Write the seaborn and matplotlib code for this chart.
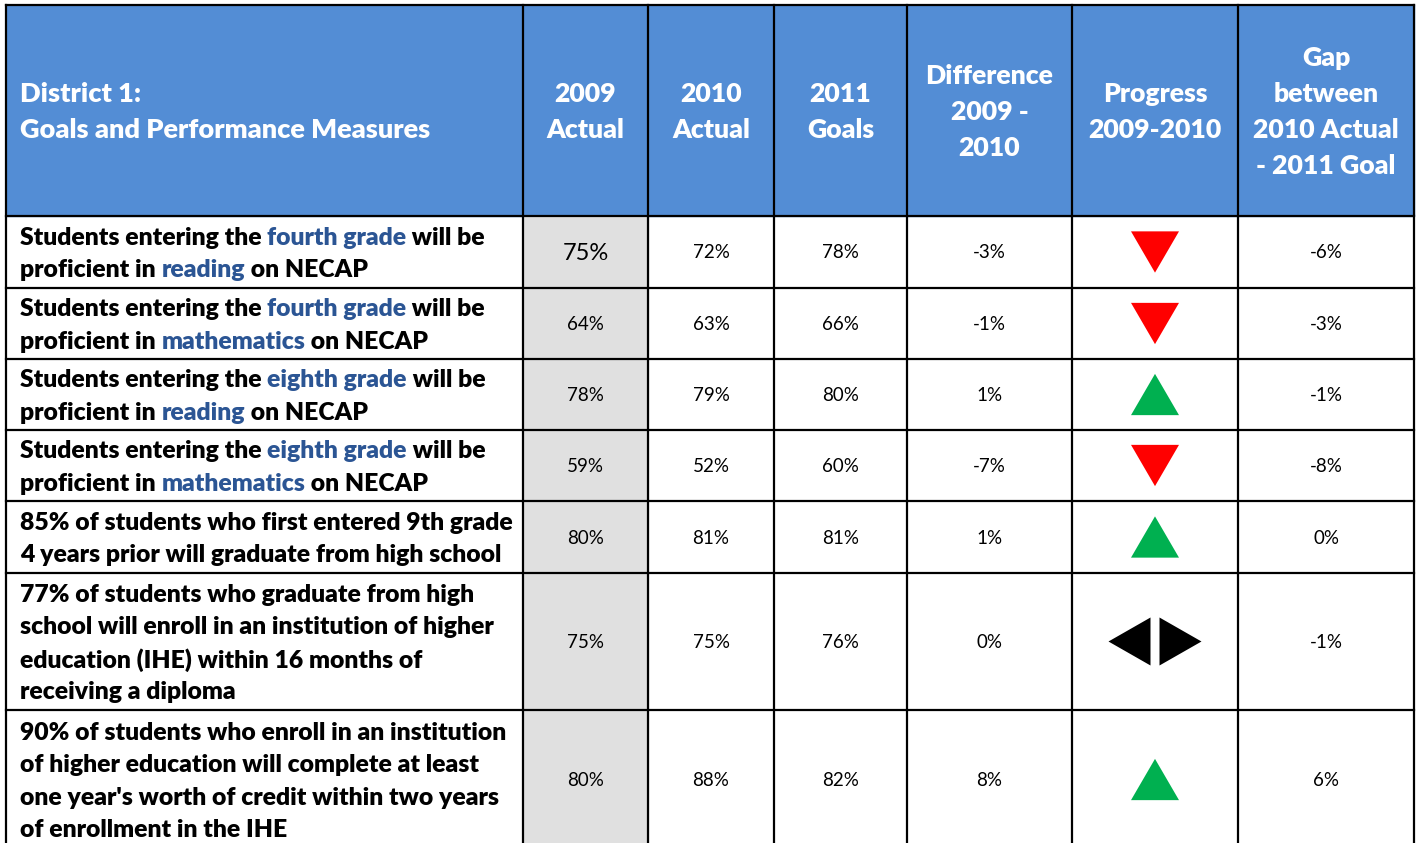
import pandas as pd
import matplotlib.pyplot as plt
import seaborn as sns

# Table content
header_title = ["District 1:", "Goals and Performance Measures"]
col_headers = [
    ["2009", "Actual"],
    ["2010", "Actual"],
    ["2011", "Goals"],
    ["Difference", "2009 -", "2010"],
    ["Progress", "2009-2010"],
    ["Gap", "between", "2010 Actual", "- 2011 Goal"],
]

# [..] marks the words printed in blue
measures = [
    ["Students entering the [fourth grade] will be", "proficient in [reading] on NECAP"],
    ["Students entering the [fourth grade] will be", "proficient in [mathematics] on NECAP"],
    ["Students entering the [eighth grade] will be", "proficient in [reading] on NECAP"],
    ["Students entering the [eighth grade] will be", "proficient in [mathematics] on NECAP"],
    ["85% of students who first entered 9th grade", "4 years prior will graduate from high school"],
    ["77% of students who graduate from high", "school will enroll in an institution of higher",
     "education (IHE) within 16 months of", "receiving a diploma"],
    ["90% of students who enroll in an institution", "of higher education will complete at least",
     "one year's worth of credit within two years", "of enrollment in the IHE"],
]
actual_2009 = ["75%", "64%", "78%", "59%", "80%", "75%", "80%"]
actual_2010 = ["72%", "63%", "79%", "52%", "81%", "75%", "88%"]
goals_2011 = ["78%", "66%", "80%", "60%", "81%", "76%", "82%"]
difference = ["-3%", "-1%", "1%", "-7%", "1%", "0%", "8%"]
progress = ["down", "down", "up", "down", "up", "flat", "up"]
gap = ["-6%", "-3%", "-1%", "-8%", "0%", "-1%", "6%"]

# Layout (pixel units)
W, H = 1418, 843
col_edges = [6, 523, 648, 774, 907, 1072, 1238, 1414]
row_edges = [5, 216, 288, 359, 430, 501, 573, 710, 849]
HEADER_BLUE = "#538DD5"
GREY = "#E0E0E0"
TEXT_BLUE = "#2B5594"
BOLD = "heavy"

sns.set_theme(style="white")
plt.rcParams['font.family'] = ['Lato', 'DejaVu Sans']

fig = plt.figure(figsize=(W / 100, H / 100), dpi=100)
ax = fig.add_axes([0, 0, 1, 1])

# Progress markers drawn through seaborn
col_mid = [(a + b) / 2 for a, b in zip(col_edges[:-1], col_edges[1:])]
row_mid = [(a + b) / 2 for a, b in zip(row_edges[1:-1], row_edges[2:])]
marks = []
for i, p in enumerate(progress):
    if p == "flat":
        marks.append({"x": col_mid[5] - 25.5, "y": row_mid[i], "shape": "left"})
        marks.append({"x": col_mid[5] + 25.5, "y": row_mid[i], "shape": "right"})
    else:
        marks.append({"x": col_mid[5], "y": row_mid[i], "shape": p})
marks = pd.DataFrame(marks)

shape_markers = {
    "down": [(-1, 0.86), (1, 0.86), (0, -0.86)],
    "up": [(-1, -0.86), (1, -0.86), (0, 0.86)],
    "left": [(-0.875, 0), (0.875, 1), (0.875, -1)],
    "right": [(0.875, 0), (-0.875, 1), (-0.875, -1)],
}
shape_colors = {"down": "#FF0000", "up": "#00B050", "left": "#000000", "right": "#000000"}

# Cell fills
ax.add_patch(plt.Rectangle((col_edges[0], row_edges[0]), col_edges[-1] - col_edges[0],
                           row_edges[1] - row_edges[0], color=HEADER_BLUE, zorder=0))
ax.add_patch(plt.Rectangle((col_edges[1], row_edges[1]), col_edges[2] - col_edges[1],
                           row_edges[-1] - row_edges[1], color=GREY, zorder=0))

sns.scatterplot(data=marks, x="x", y="y", hue="shape", style="shape",
                palette=shape_colors, markers=shape_markers, s=1194,
                linewidth=0, edgecolor="none", legend=False, ax=ax, zorder=3)

# Grid lines
for x in col_edges:
    ax.plot([x, x], [row_edges[0], row_edges[-1]], color="black", lw=1.6, zorder=2,
            solid_capstyle="projecting")
for y in row_edges:
    ax.plot([col_edges[0], col_edges[-1]], [y, y], color="black", lw=1.6, zorder=2,
            solid_capstyle="projecting")

# Header text
hdr_mid = (row_edges[0] + row_edges[1]) / 2 + 2
HDR_STEP = 36
for k, line in enumerate(header_title):
    ax.text(20, hdr_mid + (k - (len(header_title) - 1) / 2) * HDR_STEP, line,
            color="white", fontsize=19.5, fontweight=BOLD, ha="left", va="center")
for c, lines in enumerate(col_headers):
    for k, line in enumerate(lines):
        ax.text(col_mid[c + 1], hdr_mid + (k - (len(lines) - 1) / 2) * HDR_STEP, line,
                color="white", fontsize=19.2, fontweight=BOLD, ha="center", va="center")


def segments(line):
    out = []
    blue = False
    buf = ""
    for ch in line:
        if ch in "[]":
            if buf:
                out.append((buf, TEXT_BLUE if blue else "black"))
            buf = ""
            blue = ch == "["
        else:
            buf += ch
    if buf:
        out.append((buf, TEXT_BLUE if blue else "black"))
    return out


# Measure descriptions
BODY_STEP = 32.3
for i, lines in enumerate(measures):
    for k, line in enumerate(lines):
        y = row_mid[i] + 2 + (k - (len(lines) - 1) / 2) * BODY_STEP
        prev = None
        for txt, color in segments(line):
            if prev is None:
                prev = ax.text(20, y, txt, color=color, fontsize=17.8, fontweight=BOLD,
                               ha="left", va="center")
            else:
                prev = ax.annotate(txt, xy=(1, 0.5), xycoords=prev, color=color,
                                   fontsize=17.8, fontweight=BOLD, ha="left", va="center")

# Numeric cells
for c, values in enumerate([actual_2009, actual_2010, goals_2011, difference]):
    for i, v in enumerate(values):
        size = 17 if (c == 0 and i == 0) else 13.5
        ax.text(col_mid[c + 1], row_mid[i] + 1, v, fontsize=size, color="black",
                ha="center", va="center")
for i, v in enumerate(gap):
    ax.text(col_mid[6], row_mid[i] + 1, v, fontsize=13.5, color="black",
            ha="center", va="center")

ax.set_xlim(0, W)
ax.set_ylim(H, 0)
ax.axis("off")

plt.savefig("out.png", dpi=100, facecolor="white")
plt.close()
